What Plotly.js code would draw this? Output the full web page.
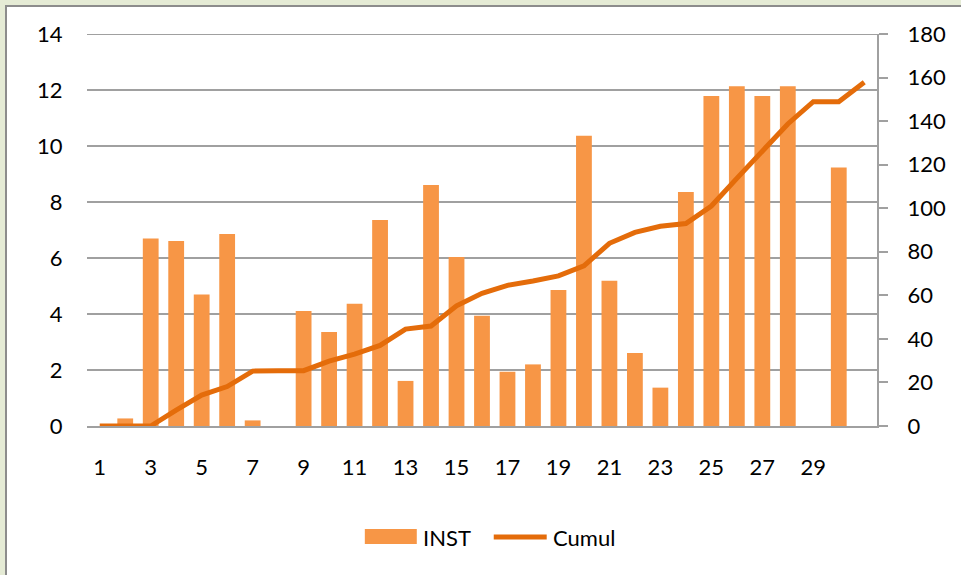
<!DOCTYPE html>
<html>
<head>
<meta charset="utf-8">
<script src="https://cdn.plot.ly/plotly-3.0.1.min.js"></script>
<style>
  html, body { margin: 0; padding: 0; background: #e5ebd5; width: 961px; height: 575px; overflow: hidden; }
  #frame { position: absolute; left: 5px; top: 5px; width: 960px; height: 575px; background: #ffffff;
           border-left: 2px solid #8c8c8c; border-top: 2px solid #8c8c8c; }
  #chart { position: absolute; left: 0; top: 0; width: 961px; height: 575px; }
</style>
</head>
<body>
<div id="frame"></div>
<div id="chart"></div>
<script>
const days = [1,2,3,4,5,6,7,8,9,10,11,12,13,14,15,16,17,18,19,20,21,22,23,24,25,26,27,28,29,30,31];
const inst = [0, 0.27, 6.70, 6.61, 4.70, 6.86, 0.20, 0, 4.11, 3.36, 4.37, 7.36, 1.61, 8.61, 6.04, 3.94,
              1.94, 2.20, 4.86, 10.37, 5.19, 2.61, 1.37, 8.36, 11.79, 12.13, 11.79, 12.13, 0, 9.23, 0];
const cumul = [0, 0, 0, 7.3, 14.2, 18.1, 25.2, 25.4, 25.4, 29.8, 33.0, 37.0, 44.5, 45.9, 55.2, 60.9,
               64.6, 66.6, 68.9, 73.5, 83.9, 88.9, 91.7, 93.0, 101.0, 113.7, 126.4, 138.7, 148.9, 148.9, 157.8];
const xTicks = [1,3,5,7,9,11,13,15,17,19,21,23,25,27,29];
const leftTicks = [0,2,4,6,8,10,12,14];
const rightTicks = [0,20,40,60,80,100,120,140,160,180];
const seriesNames = ['INST', 'Cumul'];

const barColor = '#f79646';
const lineColor = '#e46c0a';
const gridColor = '#a0a0a0';
const font = { family: 'Lato, "Open Sans", sans-serif', size: 22, color: '#000000' };

const leftMax = leftTicks[leftTicks.length - 1];
const rightMax = rightTicks[rightTicks.length - 1];

const traces = [
  { type: 'bar', x: days, y: inst, name: seriesNames[0], marker: { color: barColor }, yaxis: 'y', showlegend: false },
  { type: 'scatter', mode: 'lines', x: days, y: cumul, name: seriesNames[1], yaxis: 'y2',
    line: { color: lineColor, width: 5 }, showlegend: false }
];

const W = 790.5, H = 392;
function px(x) { return (x - 87) / W; }
function py(y) { return (426 - y) / H; }

const layout = {
  width: 961, height: 575,
  margin: { l: 87, r: 83.5, t: 34, b: 149 },
  paper_bgcolor: 'rgba(0,0,0,0)',
  plot_bgcolor: 'rgba(0,0,0,0)',
  font: font,
  bargap: 0.38,
  xaxis: {
    range: [0.5, 31.5], tickmode: 'array', tickvals: xTicks, ticktext: xTicks.map(String),
    showgrid: false, zeroline: false, showline: true, linecolor: gridColor, linewidth: 2,
    ticks: 'outside', ticklen: 21, tickcolor: 'rgba(0,0,0,0)', tickfont: font, fixedrange: true
  },
  yaxis: {
    range: [0, leftMax], tickmode: 'array', tickvals: leftTicks, ticktext: leftTicks.map(String),
    showgrid: true, gridcolor: gridColor, gridwidth: 2, zeroline: false, showline: false,
    ticks: 'outside', ticklen: 19, tickcolor: 'rgba(0,0,0,0)', tickfont: font, fixedrange: true
  },
  yaxis2: {
    overlaying: 'y', side: 'right', range: [0, rightMax], tickmode: 'array', tickvals: rightTicks,
    ticktext: rightTicks.map(String), showgrid: false, zeroline: false, showline: true,
    linecolor: gridColor, linewidth: 2, ticks: 'outside', ticklen: 9, tickwidth: 2,
    tickcolor: gridColor, ticklabelstandoff: 15, tickfont: font, fixedrange: true
  },
  shapes: [
    // top gridline (Plotly skips the gridline at the range edge)
    { type: 'line', xref: 'paper', yref: 'y', x0: 0, x1: 1, y0: leftMax, y1: leftMax,
      line: { color: gridColor, width: 2 }, layer: 'below' },
    { type: 'rect', xref: 'paper', yref: 'paper', x0: px(365), x1: px(417), y0: py(544), y1: py(529),
      fillcolor: barColor, line: { width: 0 } },
    { type: 'line', xref: 'paper', yref: 'paper', x0: px(494), x1: px(547), y0: py(537), y1: py(537),
      line: { color: lineColor, width: 5 } }
  ],
  annotations: [
    { xref: 'paper', yref: 'paper', x: px(421), y: py(537), xanchor: 'left', yanchor: 'middle',
      text: seriesNames[0], showarrow: false, font: font },
    { xref: 'paper', yref: 'paper', x: px(551), y: py(537), xanchor: 'left', yanchor: 'middle',
      text: seriesNames[1], showarrow: false, font: font }
  ],
  showlegend: false
};

Plotly.newPlot('chart', traces, layout, { displayModeBar: false, staticPlot: true });
</script>
</body>
</html>
